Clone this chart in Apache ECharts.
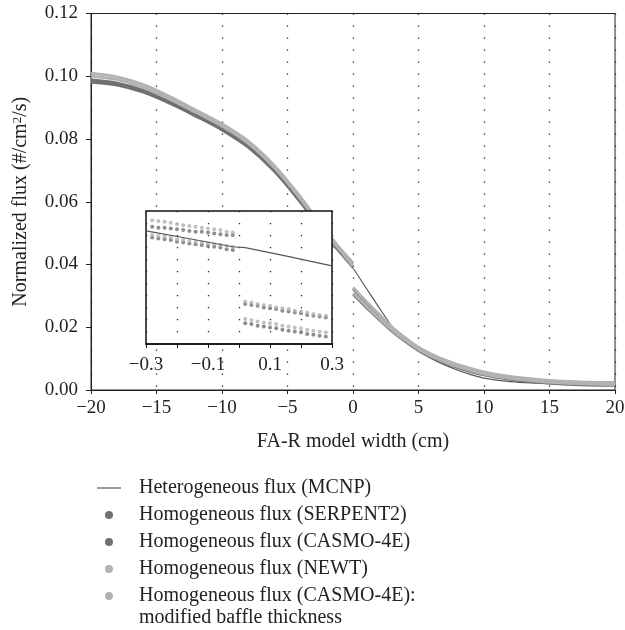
<!DOCTYPE html>
<html><head><meta charset="utf-8">
<script src="https://cdn.jsdelivr.net/npm/echarts@6/dist/echarts.min.js"></script>
<style>html,body{margin:0;padding:0;background:#fff}#c{width:625px;height:630px}</style>
</head><body><div id="c"></div>
<script>
const FONT = '"Liberation Serif", "Times New Roman", serif';
const names = ['Heterogeneous flux (MCNP)', 'Homogeneous flux (SERPENT2)', 'Homogeneous flux (CASMO-4E)', 'Homogeneous flux (NEWT)', 'Homogeneous flux (CASMO-4E): modified baffle thickness'];
const DARK = '#707070', LIGHT = '#b2b2b2', LINE = '#575757';

// main plot
const mainLeftX = [-20, -18, -16, -14, -12, -10, -8, -6, -4, -2, -1, -0.02];
const mainRightX = [0.02, 1, 2, 3, 4, 5, 6, 7, 8, 10, 12, 14, 16, 18, 20];
const serpentLeft = [0.0988, 0.0978, 0.0955, 0.0919, 0.0878, 0.0834, 0.0779, 0.0702, 0.0603, 0.0492, 0.0445, 0.0402];
const casmoLeft = [0.0981, 0.0972, 0.0949, 0.0914, 0.0873, 0.0829, 0.0774, 0.0697, 0.0598, 0.0487, 0.0440, 0.0392];
const newtLeft = [0.1010, 0.0998, 0.0973, 0.0935, 0.0892, 0.0848, 0.0793, 0.0715, 0.0615, 0.0502, 0.0452, 0.0406];
const casmoModLeft = [0.1000, 0.0989, 0.0964, 0.0927, 0.0885, 0.0841, 0.0786, 0.0708, 0.0608, 0.0496, 0.0446, 0.0395];
const serpentRight = [0.0323, 0.0279, 0.0237, 0.0196, 0.0163, 0.0133, 0.0111, 0.0093, 0.0078, 0.0055, 0.0041, 0.0032, 0.0026, 0.0023, 0.0022];
const casmoRight = [0.0305, 0.0264, 0.0225, 0.0187, 0.0155, 0.0126, 0.0104, 0.0086, 0.0071, 0.0048, 0.0034, 0.0025, 0.0019, 0.0016, 0.0015];
const newtRight = [0.0327, 0.0283, 0.0241, 0.0200, 0.0166, 0.0136, 0.0114, 0.0096, 0.0081, 0.0058, 0.0043, 0.0034, 0.0028, 0.0025, 0.0024];
const casmoModRight = [0.0309, 0.0268, 0.0228, 0.0190, 0.0158, 0.0129, 0.0107, 0.0089, 0.0074, 0.0051, 0.0037, 0.0028, 0.0022, 0.0019, 0.0017];
const mcnpX = [-20, -18, -16, -14, -12, -10, -8, -6, -4, -2, -1, 0, 1, 2, 3, 3.5, 4, 5, 6, 7, 8, 9, 10, 12, 14, 16, 18, 20];
const mcnpY = [0.0983, 0.0974, 0.0951, 0.0916, 0.0875, 0.0831, 0.0776, 0.0699, 0.0600, 0.0489, 0.0438, 0.0388, 0.0325, 0.0262, 0.0200, 0.0171, 0.0153, 0.0124, 0.0100, 0.0080, 0.0063, 0.0049, 0.0038, 0.0027, 0.0022, 0.0019, 0.0017, 0.0016];

// inset
const insetLeftX = [-0.28, -0.26, -0.24, -0.22, -0.20, -0.18, -0.16, -0.14, -0.12, -0.10, -0.08, -0.06, -0.04, -0.02];
const insetRightX = [0.02, 0.04, 0.06, 0.08, 0.10, 0.12, 0.14, 0.16, 0.18, 0.20, 0.22, 0.24, 0.26, 0.28];
const inSerpentLeft = [0.0421, 0.0420, 0.0420, 0.0419, 0.0418, 0.0417, 0.0416, 0.0415, 0.0415, 0.0414, 0.0413, 0.0412, 0.0411, 0.0411];
const inCasmoLeft = [0.0408, 0.0407, 0.0406, 0.0405, 0.0403, 0.0402, 0.0401, 0.0400, 0.0399, 0.0398, 0.0397, 0.0396, 0.0394, 0.0393];
const inNewtLeft = [0.0429, 0.0428, 0.0427, 0.0426, 0.0424, 0.0423, 0.0422, 0.0421, 0.0420, 0.0419, 0.0418, 0.0417, 0.0415, 0.0414];
const inCasmoModLeft = [0.0411, 0.0410, 0.0409, 0.0408, 0.0406, 0.0405, 0.0404, 0.0403, 0.0402, 0.0401, 0.0400, 0.0399, 0.0398, 0.0397];
const inSerpentRight = [0.0328, 0.0327, 0.0326, 0.0324, 0.0323, 0.0322, 0.0320, 0.0319, 0.0318, 0.0317, 0.0315, 0.0314, 0.0313, 0.0312];
const inCasmoRight = [0.0305, 0.0304, 0.0302, 0.0301, 0.0300, 0.0299, 0.0297, 0.0296, 0.0295, 0.0294, 0.0292, 0.0291, 0.0290, 0.0289];
const inNewtRight = [0.0331, 0.0330, 0.0328, 0.0327, 0.0326, 0.0324, 0.0323, 0.0322, 0.0320, 0.0319, 0.0318, 0.0316, 0.0315, 0.0314];
const inCasmoModRight = [0.0310, 0.0309, 0.0307, 0.0306, 0.0305, 0.0304, 0.0302, 0.0301, 0.0300, 0.0299, 0.0297, 0.0296, 0.0295, 0.0294];
const inMcnpX = [-0.3, -0.15, -0.02, 0.02, 0.15, 0.3];
const inMcnpY = [0.0416, 0.0406, 0.0397, 0.0396, 0.0386, 0.0374];

const zip = (xs, ys) => xs.map((x, i) => [x, ys[i]]);
const minus = v => (v < 0 ? '\u2212' + Math.abs(v) : String(v));

function band(name, color, xs, ys) {
  return { type: 'line', name, data: zip(xs, ys), xAxisIndex: 0, yAxisIndex: 0, showSymbol: false, smooth: 0.35,
    lineStyle: { color, width: 2.9 }, itemStyle: { color }, z: 2, silent: true };
}
function dots(name, color, xs, ys) {
  return { type: 'scatter', name, data: zip(xs, ys), xAxisIndex: 1, yAxisIndex: 1, symbolSize: 4,
    itemStyle: { color }, z: 11, silent: true };
}

const series = [
  { type: 'line', name: names[0], data: zip(mcnpX, mcnpY), showSymbol: false, smooth: 0.35,
    lineStyle: { color: LINE, width: 1.2 }, itemStyle: { color: LINE }, z: 1, silent: true },
  band(names[1], DARK, mainLeftX, serpentLeft), band(names[1], DARK, mainRightX, serpentRight),
  band(names[2], DARK, mainLeftX, casmoLeft), band(names[2], DARK, mainRightX, casmoRight),
  band(names[3], LIGHT, mainLeftX, newtLeft), band(names[3], LIGHT, mainRightX, newtRight),
  band(names[4], LIGHT, mainLeftX, casmoModLeft), band(names[4], LIGHT, mainRightX, casmoModRight),
  dots(names[1], DARK, insetLeftX, inSerpentLeft), dots(names[1], DARK, insetRightX, inSerpentRight),
  dots(names[2], DARK, insetLeftX, inCasmoLeft), dots(names[2], DARK, insetRightX, inCasmoRight),
  dots(names[3], LIGHT, insetLeftX, inNewtLeft), dots(names[3], LIGHT, insetRightX, inNewtRight),
  dots(names[4], LIGHT, insetLeftX, inCasmoModLeft), dots(names[4], LIGHT, insetRightX, inCasmoModRight),
  { type: 'line', name: names[0], data: zip(inMcnpX, inMcnpY), xAxisIndex: 1, yAxisIndex: 1, showSymbol: false,
    lineStyle: { color: LINE, width: 1.2 }, itemStyle: { color: LINE }, z: 12, silent: true }
];

const txt = { fontFamily: FONT, fontSize: 19, color: '#222' };
const chart = echarts.init(document.getElementById('c'), null, { renderer: 'canvas' });
chart.setOption({
  animation: false,
  backgroundColor: '#fff',
  grid: [
    { left: 91, right: 10, top: 13.5, bottom: 240, show: true, borderColor: '#222', borderWidth: 1, backgroundColor: 'transparent', containLabel: false, outerBoundsMode: 'none', z: 0 },
    { left: 146, top: 211, width: 186, height: 133, show: true, borderColor: '#111', borderWidth: 1.5, backgroundColor: '#fff', containLabel: false, outerBoundsMode: 'none', z: 10 }
  ],
  xAxis: [
    { type: 'value', gridIndex: 0, min: -20, max: 20, interval: 5,
      axisLine: { onZero: false, lineStyle: { color: '#222', width: 1 } },
      axisTick: { show: true, inside: false, length: 4, lineStyle: { color: '#222' } },
      axisLabel: { ...txt, margin: 9, formatter: minus },
      splitLine: { show: true, lineStyle: { color: '#222', width: 1.3, type: [1.3, 10.7] } },
      name: 'FA-R model width (cm)', nameLocation: 'middle', nameGap: 42,
      nameTextStyle: { fontFamily: FONT, fontSize: 20, color: '#222' } },
    { type: 'value', gridIndex: 1, min: -0.3, max: 0.3, interval: 0.1, z: 10,
      axisLine: { onZero: false, lineStyle: { color: '#111', width: 1.5 } },
      axisTick: { show: true, inside: false, length: 4, lineStyle: { color: '#111' } },
      axisLabel: { ...txt, margin: 12, formatter: v => { const r = Math.round(v * 10); return Math.abs(r) % 2 === 1 ? (r < 0 ? '\u2212' : '') + '0.' + Math.abs(r) : ''; } },
      splitLine: { show: true, lineStyle: { color: '#222', width: 1.3, type: [1.3, 10.7] } } }
  ],
  yAxis: [
    { type: 'value', gridIndex: 0, min: 0, max: 0.12, interval: 0.02,
      axisLine: { show: true, onZero: false, lineStyle: { color: '#222', width: 1 } },
      axisTick: { show: true, inside: false, length: 5, lineStyle: { color: '#222' } },
      axisLabel: { ...txt, margin: 13, formatter: v => v.toFixed(2) },
      splitLine: { show: false },
      name: '{a|Normalized flux (#/cm}{b|2}{a|/s)}', nameLocation: 'middle', nameGap: 60,
      nameTextStyle: { fontFamily: FONT, fontSize: 20, color: '#222',
        rich: { a: { fontFamily: FONT, fontSize: 20, color: '#222' }, b: { fontFamily: FONT, fontSize: 13, color: '#222', verticalAlign: 'top', lineHeight: 13 } } } },
    { type: 'value', gridIndex: 1, min: 0.028, max: 0.044, z: 10,
      axisLine: { show: false, onZero: false }, axisTick: { show: false }, axisLabel: { show: false }, splitLine: { show: false } }
  ],
  legend: {
    orient: 'vertical', left: 97, top: 477, itemWidth: 24, itemHeight: 8, itemGap: 5, padding: 0,
    selectedMode: false, itemStyle: { borderWidth: 0 },
    textStyle: { fontFamily: FONT, fontSize: 20, color: '#222', lineHeight: 22, padding: [0, 0, 0, 13] },
    formatter: n => (n === names[4] ? 'Homogeneous flux (CASMO-4E):' : n),
    data: [
      { name: names[0], icon: 'path://M0,0H24V1.2H0Z' },
      { name: names[1], icon: 'circle' },
      { name: names[2], icon: 'circle' },
      { name: names[3], icon: 'circle' },
      { name: names[4], icon: 'circle' }
    ]
  },
  graphic: [
    { type: 'text', left: 139, top: 608, style: { text: 'modified baffle thickness', font: '20px "Liberation Serif"', fill: '#222' } }
  ],
  series
});
</script></body></html>
